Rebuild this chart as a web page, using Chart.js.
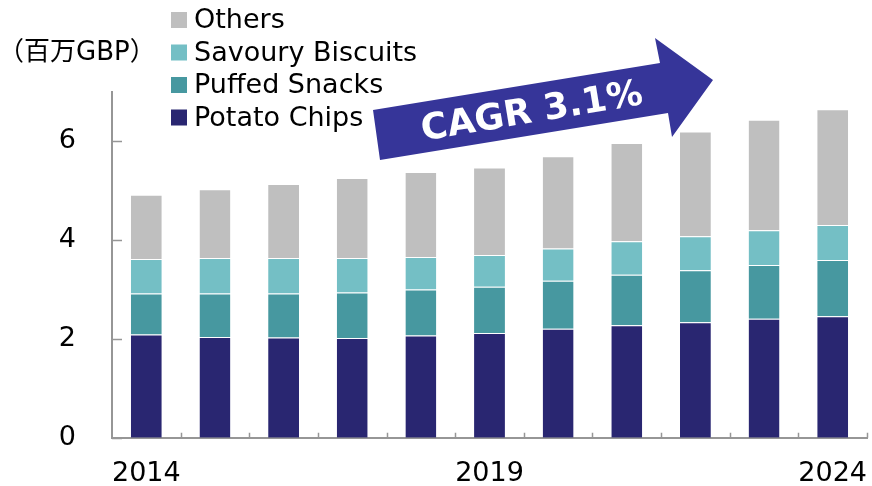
<!DOCTYPE html>
<html>
<head>
<meta charset="utf-8">
<script src="https://cdn.jsdelivr.net/npm/chart.js@4.4.1/dist/chart.umd.min.js"></script>
<style>
  html, body { margin: 0; padding: 0; background: #fff; overflow: hidden; }
  #wrap { position: relative; width: 872px; height: 486px; overflow: hidden; }
</style>
</head>
<body>
<div id="wrap"><canvas id="snackChart" width="872" height="490"></canvas></div>
<script>
const years = ['2014', '2015', '2016', '2017', '2018', '2019', '2020', '2021', '2022', '2023', '2024'];
const shownYears = ['2014', '2019', '2024'];
const yTicks = [0, 2, 4, 6];

const potatoChips = [2.09, 2.04, 2.03, 2.02, 2.07, 2.12, 2.21, 2.28, 2.34, 2.41, 2.46];
const puffedSnacks = [0.83, 0.88, 0.89, 0.92, 0.93, 0.94, 0.97, 1.02, 1.05, 1.09, 1.14];
const savouryBiscuits = [0.70, 0.72, 0.72, 0.70, 0.66, 0.64, 0.65, 0.68, 0.69, 0.70, 0.71];
const others = [1.30, 1.39, 1.50, 1.62, 1.72, 1.77, 1.87, 1.99, 2.12, 2.24, 2.34];

const colors = {
  chips: '#292671',
  puffed: '#4798a0',
  savoury: '#74bfc5',
  others: '#bfbfbf',
  arrow: '#363599',
  axis: '#969696',
};

const FONT = '"DejaVu Sans", Verdana, sans-serif';

function bar(label, data, color) {
  return {
    label,
    data,
    backgroundColor: color,
    borderColor: 'rgba(255,255,255,0.35)',
    borderWidth: { top: 1 },
    borderSkipped: false,
    categoryPercentage: 1,
    barPercentage: 0.45,
  };
}

// legend (top first), unit label, inward ticks and the CAGR arrow
const decorations = {
  id: 'decorations',
  afterDraw(chart) {
    const { ctx, scales } = chart;
    const x = scales.x;
    const y = scales.y;
    ctx.save();

    // inward tick marks
    ctx.strokeStyle = colors.axis;
    ctx.lineWidth = 1.5;
    ctx.beginPath();
    yTicks.forEach((v) => {
      const py = Math.round(y.getPixelForValue(v)) + 0.5;
      ctx.moveTo(x.left, py);
      ctx.lineTo(x.left + 10, py);
    });
    const step = (x.right - x.left) / years.length;
    for (let i = 1; i <= years.length; i += 1) {
      const px = Math.round(x.left + step * i) + 0.5;
      ctx.moveTo(px, y.bottom);
      ctx.lineTo(px, y.bottom - 5);
    }
    ctx.stroke();

    // unit label
    ctx.fillStyle = '#000';
    ctx.font = '26px ' + FONT + ', "Noto Sans CJK JP"';
    ctx.textBaseline = 'middle';
    ctx.textAlign = 'left';
    ctx.fillText('（百万GBP）', -2, 53);

    // legend, reversed so the top segment is listed first
    ctx.font = '27px ' + FONT;
    const items = chart.data.datasets.slice().reverse();
    items.forEach((ds, i) => {
      const cy = 20 + i * 32.5;
      ctx.fillStyle = ds.backgroundColor;
      ctx.fillRect(171, cy - 8, 16, 16);
      ctx.fillStyle = '#000';
      ctx.fillText(ds.label, 194, cy + 1);
    });

    // CAGR arrow
    ctx.fillStyle = colors.arrow;
    ctx.beginPath();
    ctx.moveTo(373, 110);
    ctx.lineTo(660, 63);
    ctx.lineTo(655, 38);
    ctx.lineTo(713, 80);
    ctx.lineTo(672, 137);
    ctx.lineTo(668, 113);
    ctx.lineTo(380, 160);
    ctx.closePath();
    ctx.fill();

    ctx.translate(532, 113);
    ctx.rotate(-9.4 * Math.PI / 180);
    ctx.fillStyle = '#fff';
    ctx.font = 'bold 36px ' + FONT;
    ctx.textAlign = 'center';
    ctx.fillText('CAGR 3.1%', 0, 0);
    ctx.restore();
  },
};

new Chart(document.getElementById('snackChart'), {
  type: 'bar',
  data: {
    labels: years,
    datasets: [
      bar('Potato Chips', potatoChips, colors.chips),
      bar('Puffed Snacks', puffedSnacks, colors.puffed),
      bar('Savoury Biscuits', savouryBiscuits, colors.savoury),
      bar('Others', others, colors.others),
    ],
  },
  options: {
    responsive: false,
    animation: false,
    layout: { padding: { top: 92, right: 5, left: 0, bottom: 0 } },
    plugins: { legend: { display: false }, tooltip: { enabled: false } },
    scales: {
      x: {
        stacked: true,
        grid: { display: false, drawTicks: false },
        border: { color: colors.axis, width: 2 },
        afterFit(s) {
          s.height = 48;
          s.paddingLeft = 0;
          s.paddingRight = 0;
        },
        ticks: {
          autoSkip: false,
          maxRotation: 0,
          padding: 20,
          color: '#000',
          font: { family: FONT, size: 27 },
          callback(v, i) { return shownYears.includes(years[i]) ? years[i] : ''; },
        },
      },
      y: {
        stacked: true,
        min: 0,
        max: 7,
        afterBuildTicks(s) { s.ticks = yTicks.map((v) => ({ value: v })); },
        afterFit(s) { s.width = 112; },
        grid: { display: false, drawTicks: false },
        border: { color: colors.axis, width: 2 },
        ticks: {
          padding: 36,
          color: '#000',
          font: { family: FONT, size: 27 },
        },
      },
    },
  },
  plugins: [decorations],
});
</script>
</body>
</html>
